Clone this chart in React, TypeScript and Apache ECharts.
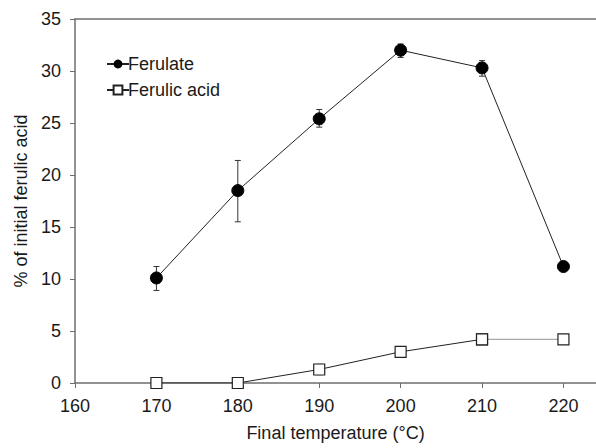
import React, { useEffect, useRef } from "react";
import * as echarts from "echarts";

const temps = [170, 180, 190, 200, 210, 220];
const ferulate = [10.1, 18.5, 25.4, 32.0, 30.3, 11.2];
const ferulateLow = [8.9, 15.5, 24.6, 31.3, 29.5, 11.2];
const ferulateHigh = [11.2, 21.4, 26.3, 32.6, 31.0, 11.2];
const ferulicAcid = [0, 0, 1.3, 3.0, 4.2, 4.2];
const ferulicAcidLow = [0, 0, 0.8, 3.0, 4.2, 4.2];
const ferulicAcidHigh = [0, 0, 1.8, 3.0, 4.2, 4.2];

const textColor = "#1a1a1a";
const axisColor = "#6e6e6e";
const font = "Liberation Sans, Arial, sans-serif";
const fs = 18;

function errData(low: number[], high: number[]) {
  return temps.map((t, i) => [t, low[i], high[i]]);
}

function errRender(params: any, api: any) {
  const x = api.value(0);
  const lo = api.coord([x, api.value(1)]);
  const hi = api.coord([x, api.value(2)]);
  const w = 3;
  const style = { stroke: "#333", lineWidth: 1 };
  return {
    type: "group",
    children: [
      { type: "line", shape: { x1: lo[0], y1: lo[1], x2: hi[0], y2: hi[1] }, style },
      { type: "line", shape: { x1: lo[0] - w, y1: lo[1], x2: lo[0] + w, y2: lo[1] }, style },
      { type: "line", shape: { x1: hi[0] - w, y1: hi[1], x2: hi[0] + w, y2: hi[1] }, style },
    ],
  };
}

const acidPoints = temps.map((t, i) => [t, ferulicAcid[i]]);

export default function App() {
  const ref = useRef<HTMLDivElement>(null);
  useEffect(() => {
    if (!ref.current) return;
    const chart = echarts.init(ref.current, undefined, { renderer: "svg" });
    const squareStyle = { color: "#fff", borderColor: "#222", borderWidth: 1.2 };
    chart.setOption({
      animation: false,
      textStyle: { fontFamily: font },
      grid: { left: 75, top: 19, right: 0, bottom: 65, containLabel: false },
      legend: {
        orient: "vertical",
        left: 101,
        top: 50,
        itemGap: 8,
        itemWidth: 22,
        itemHeight: 11,
        textStyle: { fontSize: fs, color: textColor, fontFamily: font, padding: [0, 0, 0, -6] },
        data: ["Ferulate", "Ferulic acid"],
      },
      xAxis: [
        {
          type: "value",
          min: 160,
          max: 224,
          interval: 10,
          name: "Final temperature (°C)",
          nameLocation: "middle",
          nameGap: 41,
          nameTextStyle: { fontSize: fs, color: textColor, fontFamily: font },
          axisLine: { show: true, lineStyle: { color: axisColor, width: 1.5 } },
          axisTick: { show: true, length: 5, lineStyle: { color: axisColor } },
          axisLabel: { fontSize: fs, color: textColor, margin: 14, showMaxLabel: false,
            formatter: (v: number) => (v % 10 === 0 ? String(v) : "") },
          splitLine: { show: false },
        },
        {
          type: "value",
          position: "top",
          min: 160,
          max: 224,
          axisLine: { show: true, lineStyle: { color: axisColor, width: 1.5 } },
          axisTick: { show: false },
          axisLabel: { show: false },
          splitLine: { show: false },
        },
      ],
      yAxis: {
        type: "value",
        min: 0,
        max: 35,
        interval: 5,
        name: "% of initial ferulic acid",
        nameLocation: "middle",
        nameGap: 42,
        nameTextStyle: { fontSize: fs, color: textColor, fontFamily: font },
        axisLine: { show: true, lineStyle: { color: axisColor, width: 1.5 } },
        axisTick: { show: true, length: 5, lineStyle: { color: axisColor } },
        axisLabel: { fontSize: fs, color: textColor, margin: 14 },
        splitLine: { show: false },
      },
      series: [
        {
          type: "custom",
          renderItem: errRender,
          data: errData(ferulateLow, ferulateHigh),
          encode: { x: 0, y: [1, 2] },
          z: 1,
          silent: true,
        },
        {
          type: "custom",
          renderItem: errRender,
          data: errData(ferulicAcidLow, ferulicAcidHigh),
          encode: { x: 0, y: [1, 2] },
          z: 1,
          silent: true,
        },
        {
          name: "Ferulate",
          type: "line",
          data: temps.map((t, i) => [t, ferulate[i]]),
          symbol: "circle",
          symbolSize: 12,
          lineStyle: { color: "#222", width: 1 },
          itemStyle: { color: "#000", borderColor: "#000" },
          z: 3,
        },
        {
          name: "Ferulic acid tail",
          type: "line",
          data: acidPoints.slice(4),
          symbol: "rect",
          symbolSize: 11,
          lineStyle: { color: "#a8a8a8", width: 1.2 },
          itemStyle: squareStyle,
          z: 3,
        },
        {
          name: "Ferulic acid",
          type: "line",
          data: acidPoints.slice(0, 5),
          symbol: "rect",
          symbolSize: 11,
          lineStyle: { color: "#222", width: 1 },
          itemStyle: squareStyle,
          z: 4,
        },
      ],
    });
    return () => chart.dispose();
  }, []);
  return <div ref={ref} style={{ width: 596, height: 448, position: "absolute", left: 0, top: 0 }} />;
}
